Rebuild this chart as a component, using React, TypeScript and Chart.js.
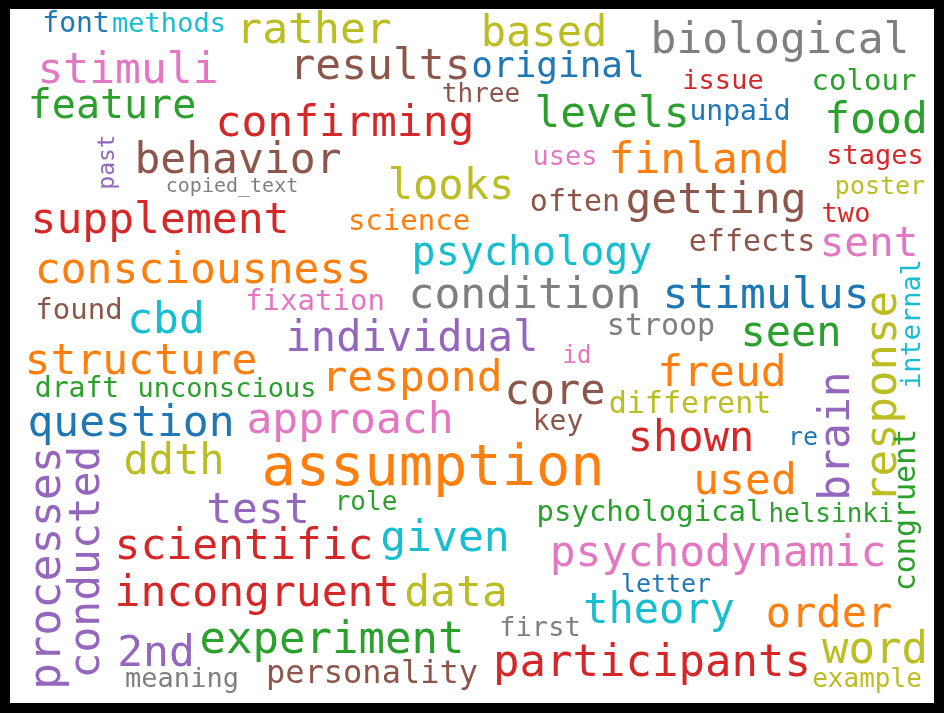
import React, { useEffect, useRef } from "react";
import { Chart, registerables } from "chart.js";
Chart.register(...registerables);

const C = { blue: "#1f77b4", orange: "#ff7f0e", green: "#2ca02c", red: "#d62728", purple: "#9467bd", brown: "#8c564b", pink: "#e377c2", gray: "#7f7f7f", olive: "#bcbd22", cyan: "#17becf" };

// word, x, y, font size, colour, vertical
const words = ["font","methods","rather","based","biological","stimuli","results","original","issue","colour","three","feature","confirming","levels","unpaid","food","past","behavior","finland","uses","stages","copied_text","looks","often","getting","poster","supplement","science","two","psychology","effects","sent","consciousness","internal","fixation","condition","stimulus","found","cbd","response","stroop","seen","individual","structure","id","freud","brain","respond","core","draft","unconscious","different","question","approach","key","shown","re","congruent","ddth","processes","conducted","assumption","used","test","role","psychological","helsinki","given","scientific","psychodynamic","incongruent","data","letter","theory","order","2nd","experiment","first","word","participants","personality","meaning","example"];
const xs = [76,169,314,544,780,128,380,558,723,864,481,112,345,612,740,876,108,238,699,565,875,232,451,575,716,880,160,409,846,532,752,869,203,913,315,525,766,79,166,885,661,791,412,141,577,722,838,412,555,77,227,690,131,350,558,691,803,907,174,48,88,433,745,258,366,650,831,445,244,718,257,456,666,659,829,156,332,540,875,652,372,182,867];
const ys = [25,25,32,35,42,72,68,68,82,82,95,108,125,116,113,122,162,162,162,158,157,187,188,203,202,187,222,222,215,255,243,245,272,324,302,297,297,311,322,397,327,335,340,363,357,375,436,380,393,390,390,405,425,422,423,440,438,510,463,568,562,470,483,512,503,513,515,540,548,555,595,595,585,612,616,655,642,629,652,665,675,680,680];
const sizes = [28,27,43,42,43,43,43,36,27,29,26,40,43,43,28,43,23,43,43,27,27,20,42,30,43,25,43,29,27,40,30,41,43,27,29,43,43,29,43,44,30,42,42,43,24,43,43,43,42,28,27,30,43,43,28,42,25,30,42,45,43,57,43,43,26,29,26,43,43,43,43,43,25,42,42,43,44,27,44,44,32,27,26];
const colors = ["blue","cyan","olive","olive","gray","pink","brown","blue","red","green","brown","green","red","green","blue","green","purple","brown","orange","pink","red","gray","olive","brown","brown","olive","red","orange","red","cyan","brown","pink","orange","cyan","pink","gray","blue","brown","cyan","olive","gray","green","purple","orange","pink","orange","purple","orange","brown","green","green","olive","blue","pink","brown","red","blue","green","olive","purple","purple","orange","orange","purple","green","green","green","cyan","red","pink","red","olive","blue","cyan","orange","purple","green","gray","olive","red","brown","gray","olive"];
const vertical = ["past","internal","response","brain","congruent","processes","conducted"];

const wordPlugin = {
  id: "words",
  beforeDraw(chart: any) {
    const c = chart.ctx;
    c.save();
    c.fillStyle = "#000";
    c.fillRect(0, 0, chart.width, chart.height);
    c.fillStyle = "#fff";
    c.fillRect(10, 9, chart.width - 20, chart.height - 19);
    c.restore();
  },
  afterDatasetsDraw(chart: any) {
    const c = chart.ctx;
    const sx = chart.scales.x, sy = chart.scales.y;
    words.forEach((w, i) => {
      c.save();
      c.translate(sx.getPixelForValue(xs[i]), sy.getPixelForValue(ys[i]));
      if (vertical.includes(w)) c.rotate(-Math.PI / 2);
      c.font = `${sizes[i]}px "DejaVu Sans Mono"`;
      c.fillStyle = (C as any)[colors[i]];
      c.textAlign = "center";
      c.textBaseline = "middle";
      c.fillText(w, 0, 0);
      c.restore();
    });
  },
};

export default function App() {
  const ref = useRef<HTMLCanvasElement>(null);
  useEffect(() => {
    document.body.style.margin = "0";
    const chart = new Chart(ref.current!, {
      type: "scatter",
      data: { datasets: [{ data: words.map((_, i) => ({ x: xs[i], y: ys[i] })), pointRadius: 0 }] },
      options: {
        animation: false, responsive: false, devicePixelRatio: 1,
        layout: { padding: 0 },
        plugins: { legend: { display: false }, tooltip: { enabled: false } },
        scales: {
          x: { type: "linear", min: 0, max: 944, display: false },
          y: { type: "linear", min: 0, max: 713, reverse: true, display: false },
        },
      },
      plugins: [wordPlugin],
    });
    return () => chart.destroy();
  }, []);
  return <canvas ref={ref} width={944} height={713} style={{ display: "block" }} />;
}
